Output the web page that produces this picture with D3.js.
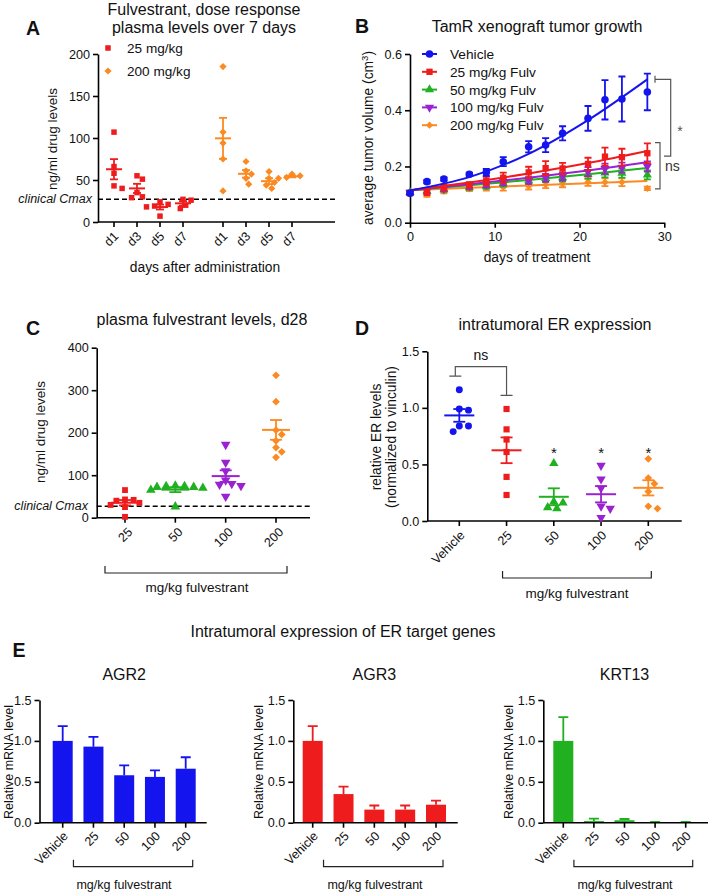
<!DOCTYPE html>
<html>
<head>
<meta charset="utf-8">
<script src="https://cdn.jsdelivr.net/npm/d3@7"></script>
<style>
  body { margin: 0; background: #fff; }
  svg { font-family: "Liberation Sans", Arial, sans-serif; }
</style>
</head>
<body>
<svg id="fig" width="709" height="893"></svg>
<script>
// ---------- data ----------
// A: plasma levels over 7 days
var aDoses = ["25 mg/kg", "200 mg/kg"];
var aDays = ["d1", "d3", "d5", "d7"];
var a25 = [[107, 66, 58, 43, 40], [55, 51, 35, 30, 29], [24, 21, 19, 18, 7], [27, 26, 20, 16]];
var a200 = [[185, 107, 94, 75, 37], [72, 61, 57, 52, 45], [60, 52, 47, 44, 40], [57, 55, 53, 52]];
var clinicalCmax = 27;

// B: tumor growth
var bTime = [0, 2, 4, 7, 9, 11, 14, 16, 18, 21, 23, 25, 28];
var bNames = ["Vehicle", "25 mg/kg Fulv", "50 mg/kg Fulv", "100 mg/kg Fulv", "200 mg/kg Fulv"];
var bVehicle = [0.105, 0.146, 0.155, 0.172, 0.179, 0.217, 0.270, 0.276, 0.318, 0.371, 0.437, 0.440, 0.465];
var bVehicleSem = [0.006, 0.006, 0.006, 0.006, 0.012, 0.016, 0.020, 0.025, 0.025, 0.044, 0.070, 0.080, 0.065];
var b25 = [0.105, 0.110, 0.125, 0.134, 0.148, 0.160, 0.179, 0.194, 0.193, 0.209, 0.235, 0.233, 0.247];
var b25Sem = [0.006, 0.012, 0.010, 0.010, 0.015, 0.018, 0.020, 0.025, 0.020, 0.022, 0.032, 0.030, 0.035];
var b50 = [0.108, 0.112, 0.118, 0.125, 0.130, 0.140, 0.150, 0.158, 0.160, 0.172, 0.177, 0.176, 0.170];
var b50Sem = [0.006, 0.008, 0.008, 0.008, 0.010, 0.012, 0.012, 0.014, 0.014, 0.016, 0.016, 0.016, 0.016];
var b100 = [0.108, 0.113, 0.120, 0.130, 0.136, 0.145, 0.150, 0.160, 0.165, 0.182, 0.192, 0.196, 0.200];
var b100Sem = [0.006, 0.008, 0.008, 0.010, 0.010, 0.012, 0.012, 0.014, 0.014, 0.016, 0.018, 0.018, 0.018];
var b200 = [0.105, 0.100, 0.112, 0.120, 0.124, 0.126, 0.130, 0.135, 0.138, 0.145, 0.144, 0.144, 0.122];
var b200Sem = [0.006, 0.008, 0.008, 0.008, 0.010, 0.012, 0.012, 0.012, 0.012, 0.014, 0.014, 0.014, 0.006];
// fitted curves
var fitTime = [0, 7, 14, 21, 28];
var fitVehicle = [0.115, 0.162, 0.245, 0.365, 0.510];
var fit25 = [0.115, 0.143, 0.175, 0.212, 0.255];
var fit50 = [0.115, 0.133, 0.152, 0.172, 0.195];
var fit100 = [0.115, 0.137, 0.160, 0.186, 0.215];
var fit200 = [0.115, 0.124, 0.132, 0.140, 0.148];

// C: plasma levels d28
var cDoses = ["25", "50", "100", "200"];
var c25 = [65, 43, 42, 40, 35, 30, 25, 2];
var c50 = [75, 74, 74, 72, 72, 70, 65, 26];
var c100 = [172, 130, 110, 88, 80, 78, 75, 50];
var c200 = [335, 273, 206, 196, 181, 165, 155, 142];

// D: intratumoral ER
var dGroups = ["Vehicle", "25", "50", "100", "200"];
var dVehicle = [1.16, 0.99, 0.98, 0.84, 0.84, 0.79];
var d25 = [0.99, 0.81, 0.72, 0.61, 0.39, 0.23];
var d50 = [0.51, 0.17, 0.16, 0.12, 0.11];
var d100 = [0.49, 0.37, 0.29, 0.13, 0.11, 0.03];
var d200 = [0.55, 0.38, 0.33, 0.26, 0.13, 0.11];

// E: ER target genes
var eGroups = ["Vehicle", "25", "50", "100", "200"];
var agr2 = [1.00, 0.93, 0.58, 0.56, 0.66];
var agr2Sem = [0.18, 0.12, 0.12, 0.08, 0.14];
var agr3 = [1.00, 0.35, 0.16, 0.16, 0.22];
var agr3Sem = [0.18, 0.09, 0.05, 0.05, 0.05];
var krt13 = [1.00, 0.02, 0.03, 0.005, 0.005];
var krt13Sem = [0.29, 0.03, 0.015, 0.005, 0.005];

// ---------- style ----------
var blue = "#1414ee", red = "#ee1c1c", green = "#20b020", purple = "#9a22d0", orange = "#fb8a22";
var font = "Liberation Sans, Arial, sans-serif";
var titleSize = 16, labSize = 13.8, tickSize = 12.6;
var svg = d3.select("#fig");

function symPath(shape, size) {
  var t = shape === "circle" ? d3.symbolCircle : shape === "triangle" || shape === "down" ? d3.symbolTriangle : d3.symbolSquare;
  return d3.symbol().type(t).size(size)();
}
function symRot(shape) {
  return shape === "diamond" ? 45 : shape === "down" ? 180 : 0;
}
function addSym(g, shape, size, x, y, color) {
  g.append("path")
    .attr("d", symPath(shape, size))
    .attr("transform", "translate(" + x + "," + y + ") rotate(" + symRot(shape) + ")")
    .attr("fill", color);
}

function label(x, y, s, opt) {
  opt = opt || {};
  var t = svg.append("text")
    .attr("x", x).attr("y", y)
    .attr("font-size", opt.size || labSize)
    .attr("text-anchor", opt.anchor || "middle")
    .attr("fill", opt.color || "#111")
    .text(s);
  if (opt.bold) t.attr("font-weight", "bold");
  if (opt.italic) t.attr("font-style", "italic");
  if (opt.rotate) t.attr("transform", "rotate(" + opt.rotate + "," + x + "," + y + ")");
  return t;
}

function yAxis(scale, x, ticks, fmt) {
  var ax = svg.append("g")
    .attr("transform", "translate(" + x + ",0)")
    .call(d3.axisLeft(scale).tickValues(ticks).tickFormat(fmt).tickSize(5).tickSizeOuter(0).tickPadding(3));
  ax.attr("font-family", font).attr("font-size", tickSize);
  ax.select(".domain").attr("stroke-width", 1.6);
  ax.selectAll(".tick line").attr("stroke-width", 1.6);
  ax.selectAll(".tick text").attr("fill", "#111");
  return ax;
}

// category x axis: line and down ticks
function catAxis(xs, keys, y0, x1, x2) {
  svg.append("line").attr("x1", x1).attr("x2", x2).attr("y1", y0).attr("y2", y0)
    .attr("stroke", "#000").attr("stroke-width", 1.6);
  keys.forEach(function (k) {
    var x = xs(k);
    svg.append("line").attr("x1", x).attr("x2", x).attr("y1", y0).attr("y2", y0 + 5)
      .attr("stroke", "#000").attr("stroke-width", 1.6);
  });
}
function catLabels(xs, keys, texts, y0, dx, dy) {
  keys.forEach(function (k, i) {
    var x = xs(k) + dx, y = y0 + dy;
    svg.append("text")
      .attr("transform", "translate(" + x + "," + y + ") rotate(-45)")
      .attr("text-anchor", "end").attr("dy", "0.35em")
      .attr("font-size", tickSize).attr("fill", "#111")
      .text(texts[i]);
  });
}

function underBracket(x1, x2, y, txt, tx, ty, size) {
  svg.append("path")
    .attr("d", "M" + x1 + "," + (y - 7) + "V" + y + "H" + x2 + "V" + (y - 7))
    .attr("fill", "none").attr("stroke", "#222").attr("stroke-width", 1.2);
  label(tx, ty, txt, { size: size || 13 });
}

// beeswarm-ish horizontal offsets so points do not overlap
function swarm(values, y, r) {
  var placed = [];
  var off = new Array(values.length);
  var order = values.map(function (v, i) { return i; })
    .sort(function (a, b) { return values[b] - values[a]; });
  order.forEach(function (i) {
    var py = y(values[i]);
    for (var k = 0; k < 60; k++) {
      var dx = (k % 2 ? 1 : -1) * Math.ceil(k / 2) * r * 0.9;
      var ok = placed.every(function (p) {
        var ex = p[0] - dx, ey = p[1] - py;
        return ex * ex + ey * ey >= 4 * r * r;
      });
      if (ok) { off[i] = dx; placed.push([dx, py]); break; }
    }
  });
  return off;
}

function scatterGroup(cx, values, y, color, shape, size, r, meanHalf, capHalf) {
  var g = svg.append("g");
  var off = swarm(values, y, r);
  values.forEach(function (v, i) { addSym(g, shape, size, cx + off[i], y(v), color); });
  var m = d3.mean(values), s = d3.deviation(values) / Math.sqrt(values.length);
  g.append("line").attr("x1", cx - meanHalf).attr("x2", cx + meanHalf)
    .attr("y1", y(m)).attr("y2", y(m)).attr("stroke", color).attr("stroke-width", 2);
  g.append("line").attr("x1", cx).attr("x2", cx)
    .attr("y1", y(m - s)).attr("y2", y(m + s)).attr("stroke", color).attr("stroke-width", 1.8);
  [m - s, m + s].forEach(function (v) {
    g.append("line").attr("x1", cx - capHalf).attr("x2", cx + capHalf)
      .attr("y1", y(v)).attr("y2", y(v)).attr("stroke", color).attr("stroke-width", 1.8);
  });
}

function dashed(x1, x2, y) {
  svg.append("line").attr("x1", x1).attr("x2", x2).attr("y1", y).attr("y2", y)
    .attr("stroke", "#000").attr("stroke-width", 1.6).attr("stroke-dasharray", "5,3");
}

// ---------- panel A ----------
var yA = d3.scaleLinear().domain([0, 200]).range([222, 54]);
var xAGroup = d3.scalePoint().domain(aDoses).range([114, 223]);
var xADay = d3.scalePoint().domain(aDays).range([0, 69]);

label(33, 35, "A", { size: 19.5, bold: true });
label(204, 15, "Fulvestrant, dose response", { size: titleSize });
label(204, 33, "plasma levels over 7 days", { size: titleSize });
yAxis(yA, 98, [0, 50, 100, 150, 200], d3.format("d"));
dashed(98, 335, yA(clinicalCmax));
label(92, yA(clinicalCmax) + 4, "clinical Cmax", { size: 12.5, anchor: "end", italic: true });

var aKeys = [], aX = {};
aDoses.forEach(function (d) {
  aDays.forEach(function (day) { aKeys.push(d + day); aX[d + day] = xAGroup(d) + xADay(day); });
});
var xA = function (k) { return aX[k]; };
catAxis(xA, aKeys, 222, 98, 335);
catLabels(xA, aKeys, aDays.concat(aDays), 222, 2, 12);
aDays.forEach(function (day, i) {
  scatterGroup(xA(aDoses[0] + day), a25[i], yA, red, "square", 30, 3, 8, 4);
  scatterGroup(xA(aDoses[1] + day), a200[i], yA, orange, "diamond", 26, 3, 8, 4);
});
var gLegA = svg.append("g");
addSym(gLegA, "square", 30, 108, 48, red);
addSym(gLegA, "diamond", 26, 108, 71, orange);
label(127, 53, "25 mg/kg", { size: 13.6, anchor: "start" });
label(127, 76, "200 mg/kg", { size: 13.6, anchor: "start" });
label(57, 139, "ng/ml drug levels", { size: 13.5, rotate: -90 });
label(205, 272, "days after administration", { size: labSize });

// ---------- panel B ----------
var yB = d3.scaleLinear().domain([0, 0.6]).range([222.7, 54]);
var xB = d3.scaleLinear().domain([0, 30]).range([410, 664.3]);

label(362, 33, "B", { size: 19.5, bold: true });
label(537, 32, "TamR xenograft tumor growth", { size: titleSize });
yAxis(yB, 410, [0, 0.2, 0.4, 0.6], d3.format(".1f"));
var axB = svg.append("g").attr("transform", "translate(0,222.7)")
  .call(d3.axisBottom(xB).tickValues([0, 10, 20, 30]).tickSize(5).tickSizeOuter(0).tickPadding(4));
axB.attr("font-family", font).attr("font-size", tickSize);
axB.select(".domain").attr("stroke-width", 1.6);
axB.selectAll(".tick line").attr("stroke-width", 1.6);
axB.selectAll(".tick text").attr("fill", "#111");

var bSeries = [
  { name: bNames[4], mean: b200, sem: b200Sem, fit: fit200, color: orange, shape: "diamond", size: 26 },
  { name: bNames[2], mean: b50, sem: b50Sem, fit: fit50, color: green, shape: "triangle", size: 36 },
  { name: bNames[3], mean: b100, sem: b100Sem, fit: fit100, color: purple, shape: "down", size: 36 },
  { name: bNames[1], mean: b25, sem: b25Sem, fit: fit25, color: red, shape: "square", size: 40 },
  { name: bNames[0], mean: bVehicle, sem: bVehicleSem, fit: fitVehicle, color: blue, shape: "circle", size: 45 }
];
var fitLine = d3.line()
  .x(function (d, i) { return xB(fitTime[i]); })
  .y(function (d) { return yB(d); })
  .curve(d3.curveMonotoneX);
bSeries.forEach(function (s) {
  var g = svg.append("g");
  g.append("path").attr("d", fitLine(s.fit)).attr("fill", "none")
    .attr("stroke", s.color).attr("stroke-width", 2);
  bTime.forEach(function (t, i) {
    var x = xB(t), lo = yB(s.mean[i] - s.sem[i]), hi = yB(s.mean[i] + s.sem[i]);
    g.append("path").attr("d", "M" + x + "," + lo + "V" + hi + "M" + (x - 3.5) + "," + lo + "H" + (x + 3.5) + "M" + (x - 3.5) + "," + hi + "H" + (x + 3.5))
      .attr("stroke", s.color).attr("stroke-width", 1.8).attr("fill", "none");
    addSym(g, s.shape, s.size, x, yB(s.mean[i]), s.color);
  });
});
// legend in original order
var legOrder = [4, 3, 1, 2, 0];
legOrder.forEach(function (si, r) {
  var s = bSeries[si], y = 54 + r * 17.8;
  svg.append("line").attr("x1", 422).attr("x2", 437).attr("y1", y).attr("y2", y)
    .attr("stroke", s.color).attr("stroke-width", 2);
  addSym(svg, s.shape, s.size, 429.5, y, s.color);
  label(450, y + 5, s.name, { size: 13.7, anchor: "start" });
});
// significance brackets
var brk = "#555";
var nsTop = yB(0.285), nsBot = yB(0.12);
svg.append("path").attr("d", "M655," + nsTop + "H660V" + nsBot + "H655")
  .attr("fill", "none").attr("stroke", brk).attr("stroke-width", 1.2);
var stTop = yB(0.51), stBot = yB(0.237);
svg.append("path").attr("d", "M655," + (stTop - 3.5) + "V" + (stTop + 3.5) + "M655," + stTop + "H670.7V" + stBot + "H664")
  .attr("fill", "none").attr("stroke", brk).attr("stroke-width", 1.2);
label(680, 136, "*", { size: 14, color: brk });
label(665, 171, "ns", { size: 14, anchor: "start", color: "#333" });
var yLabB = label(373, 138, "average tumor volume (cm", { size: labSize, rotate: -90 });
yLabB.append("tspan").attr("baseline-shift", "super").attr("font-size", 9.5).text("3");
yLabB.append("tspan").text(")");
label(537, 262, "days of treatment", { size: labSize });

// ---------- panel C ----------
var yC = d3.scaleLinear().domain([0, 400]).range([517.7, 347.7]);
var xC = d3.scalePoint().domain(cDoses).range([125, 276]);
label(33, 335, "C", { size: 19.5, bold: true });
label(202, 325, "plasma fulvestrant levels, d28", { size: titleSize });
yAxis(yC, 96.7, [0, 100, 200, 300, 400], d3.format("d"));
dashed(96.7, 310, yC(clinicalCmax));
label(88, yC(clinicalCmax) + 3.5, "clinical Cmax", { size: 12.5, anchor: "end", italic: true });
catAxis(xC, cDoses, 517.7, 96.7, 310);
catLabels(xC, cDoses, cDoses, 517.7, 5, 12);
scatterGroup(xC("25"), c25, yC, red, "square", 34, 3.2, 14, 6);
scatterGroup(xC("50"), c50, yC, green, "triangle", 40, 3.4, 14, 6);
scatterGroup(xC("100"), c100, yC, purple, "down", 40, 3.4, 14, 6);
scatterGroup(xC("200"), c200, yC, orange, "diamond", 30, 3.2, 14, 6);
label(45, 432, "ng/ml drug levels", { size: 13.5, rotate: -90 });
underBracket(xC("25") - 20, xC("200") + 11, 573, "mg/kg fulvestrant", 197, 592, 13.5);

// ---------- panel D ----------
var yD = d3.scaleLinear().domain([0, 1.5]).range([521, 351.3]);
var xD = d3.scalePoint().domain(dGroups).range([459.3, 648.3]);
label(362, 335, "D", { size: 19.5, bold: true });
label(555, 330, "intratumoral ER expression", { size: titleSize });
yAxis(yD, 427.3, [0, 0.5, 1.0, 1.5], d3.format(".1f"));
catAxis(xD, dGroups, 521, 427.3, 681.7);
catLabels(xD, dGroups, dGroups, 521, 3, 12);
var dSets = [dVehicle, d25, d50, d100, d200];
var dCols = [blue, red, green, purple, orange];
var dShapes = ["circle", "square", "triangle", "down", "diamond"];
dGroups.forEach(function (k, i) {
  scatterGroup(xD(k), dSets[i], yD, dCols[i], dShapes[i], dShapes[i] === "diamond" ? 30 : 38, 3.4, 15, 6);
  if (i >= 2) label(xD(k), 458, "*", { size: 15 });
});
// ns bracket between vehicle and 25
var nsY = yD(1.365);
var lx = xD("Vehicle") - 4, rx = xD("25");
var lb = yD(d3.max(dVehicle) + 0.12), rb = yD(d3.max(d25) + 0.12);
svg.append("path")
  .attr("d", "M" + (lx - 6) + "," + lb + "H" + (lx + 6) + "M" + lx + "," + lb + "V" + nsY + "H" + rx + "V" + rb + "M" + (rx - 6) + "," + rb + "H" + (rx + 6))
  .attr("fill", "none").attr("stroke", "#555").attr("stroke-width", 1.2);
label((lx + rx) / 2, 360, "ns", { size: 14 });
label(381, 437, "relative ER levels", { size: labSize, rotate: -90 });
label(396, 437, "(normalized to vinculin)", { size: labSize, rotate: -90 });
underBracket(xD("25") - 4, xD("200") + 3, 578, "mg/kg fulvestrant", 577, 598, 13.5);

// ---------- panel E ----------
label(19, 657, "E", { size: 19.5, bold: true });
label(343, 637, "Intratumoral expression of ER target genes", { size: titleSize });
var yE = d3.scaleLinear().domain([0, 1.5]).range([822.7, 700]);

function barPanel(p) {
  var x = d3.scalePoint().domain(eGroups).range([p.c0, p.c1]);
  label((p.c0 + p.c1) / 2, 680, p.title, { size: titleSize });
  yAxis(yE, p.ax, [0, 0.5, 1.0, 1.5], d3.format(".1f"));
  var g = svg.append("g");
  eGroups.forEach(function (k, i) {
    var cx = x(k), top = yE(p.vals[i]), et = yE(p.vals[i] + p.sems[i]);
    g.append("rect").attr("x", cx - 10).attr("width", 20)
      .attr("y", top).attr("height", yE(0) - top).attr("fill", p.color);
    g.append("path").attr("d", "M" + cx + "," + top + "V" + et + "M" + (cx - 5) + "," + et + "H" + (cx + 5))
      .attr("stroke", p.color).attr("stroke-width", 1.8).attr("fill", "none");
  });
  catAxis(x, eGroups, 822.7, p.ax, p.end);
  catLabels(x, eGroups, eGroups, 822.7, 3, 11);
  label(p.yl, 762, "Relative mRNA level", { size: 12.5, rotate: -90 });
  underBracket(x("25") - 20, x("200") + 7, 866.7, "mg/kg fulvestrant", p.lx, 889, 12.5);
}
barPanel({ title: "AGR2", vals: agr2, sems: agr2Sem, color: blue, ax: 39.5, c0: 62.7, c1: 185.7, end: 206.7, yl: 13, lx: 124 });
barPanel({ title: "AGR3", vals: agr3, sems: agr3Sem, color: red, ax: 293.3, c0: 312.7, c1: 436, end: 457.7, yl: 263, lx: 375 });
barPanel({ title: "KRT13", vals: krt13, sems: krt13Sem, color: green, ax: 543.3, c0: 563.3, c1: 685.7, end: 708, yl: 513, lx: 625 });
</script>
</body>
</html>
